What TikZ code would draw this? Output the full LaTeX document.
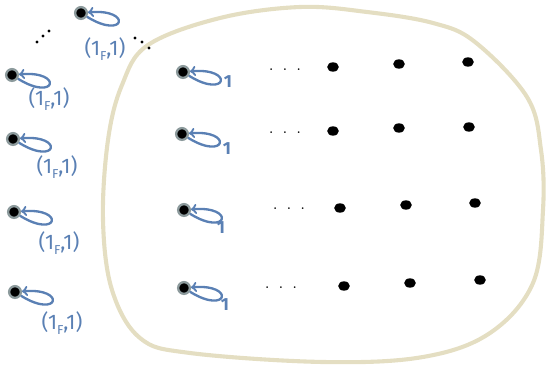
\documentclass[tikz,border=0pt]{standalone}
\usepackage{fontspec}
\newfontfamily\handfont{Fira Sans}
\usetikzlibrary{shapes.geometric, arrows}
\definecolor{ringgray}{HTML}{8C9A9C}
\definecolor{loopblue}{HTML}{5A80B4}
\definecolor{regionbeige}{HTML}{E4DEC2}
\tikzstyle{state} = [
    circle,
    fill=black,
    draw=ringgray,
    line width=2pt,
    inner sep=0pt,
    minimum size=10pt
]
\tikzstyle{sink} = [
    ellipse,
    fill=black,
    inner sep=0pt,
    minimum width=10pt,
    minimum height=8pt
]
\tikzstyle{speck} = [circle, fill=black, inner sep=0pt, minimum size=2.6pt]
\tikzstyle{pairlabel} = [
    text=loopblue,
    font=\handfont\fontsize{18}{20}\selectfont
]
\tikzstyle{weight} = [
    text=loopblue,
    font=\handfont\bfseries\fontsize{15}{17}\selectfont
]
\tikzstyle{dots} = [font=\fontsize{18}{18}\selectfont, inner sep=0pt]
\tikzstyle{region} = [draw=regionbeige, line width=3.5pt]
\tikzstyle{selfloop} = [draw=loopblue, line width=2pt, ->, >=to,
    out=-32, in=5, out distance=1.35cm, in distance=1.35cm]

\begin{document}
\begin{tikzpicture}[x=0.03cm, y=-0.03cm]
\useasboundingbox (0,0) rectangle (548,370);

\draw[region] plot[smooth cycle, tension=0.6] coordinates {
    (148,45) (220,18) (300,7) (367,12) (433,23) (475,42) (527,97)
    (541,150) (543,210) (533,283) (490,333) (423,357) (323,362)
    (190,353) (140,338) (112,290) (103,220) (108,140) (122,85)};

\node (out0) [state] at (81,13) {};
\node (out1) [state] at (12,75) {};
\node (out2) [state] at (13,139) {};
\node (out3) [state] at (14,212) {};
\node (out4) [state] at (15,292) {};

\node (lab0) [pairlabel] at (105,49) {(1\raisebox{-0.5ex}{\fontsize{11}{11}\selectfont F},1)};
\node (lab1) [pairlabel] at (49,99) {(1\raisebox{-0.5ex}{\fontsize{11}{11}\selectfont F},1)};
\node (lab2) [pairlabel] at (57,167) {(1\raisebox{-0.5ex}{\fontsize{11}{11}\selectfont F},1)};
\node (lab3) [pairlabel] at (59,243) {(1\raisebox{-0.5ex}{\fontsize{11}{11}\selectfont F},1)};
\node (lab4) [pairlabel] at (62,323) {(1\raisebox{-0.5ex}{\fontsize{11}{11}\selectfont F},1)};

% dots between the outer states
\node (m1) [speck] at (37,42) {};
\node (m2) [speck] at (43,36) {};
\node (m3) [speck] at (49,31) {};
\node (m4) [speck] at (135,38) {};
\node (m5) [speck] at (142,42) {};
\node (m6) [speck] at (149,48) {};

\node (in1) [state] at (183,72) {};
\node (in2) [state] at (182,134) {};
\node (in3) [state] at (184,210) {};
\node (in4) [state] at (184,288) {};

\node (w1) [weight] at (228,82) {1};
\node (w2) [weight] at (227,149) {1};
\node (w3) [weight] at (221,228) {1};
\node (w4) [weight] at (225,305) {1};

\node (row1) [dots] at (285,70) {. . .};
\node (row2) [dots] at (285,133) {. . .};
\node (row3) [dots] at (289,209) {. . .};
\node (row4) [dots] at (281,288) {. . .};

\node (a1) [sink] at (333,67) {};
\node (b1) [sink] at (399,64) {};
\node (c1) [sink] at (468,62) {};
\node (a2) [sink] at (333,131) {};
\node (b2) [sink] at (399,128) {};
\node (c2) [sink] at (469,127) {};
\node (a3) [sink] at (340,208) {};
\node (b3) [sink] at (406,205) {};
\node (c3) [sink] at (475,203) {};
\node (a4) [sink] at (344,286) {};
\node (b4) [sink] at (410,283) {};
\node (c4) [sink] at (480,280) {};

\draw [selfloop] (out0) to (out0);
\draw [selfloop] (out1) to (out1);
\draw [selfloop] (out2) to (out2);
\draw [selfloop] (out3) to (out3);
\draw [selfloop] (out4) to (out4);
\draw [selfloop] (in1) to (in1);
\draw [selfloop] (in2) to (in2);
\draw [selfloop] (in3) to (in3);
\draw [selfloop] (in4) to (in4);

\end{tikzpicture}
\end{document}
